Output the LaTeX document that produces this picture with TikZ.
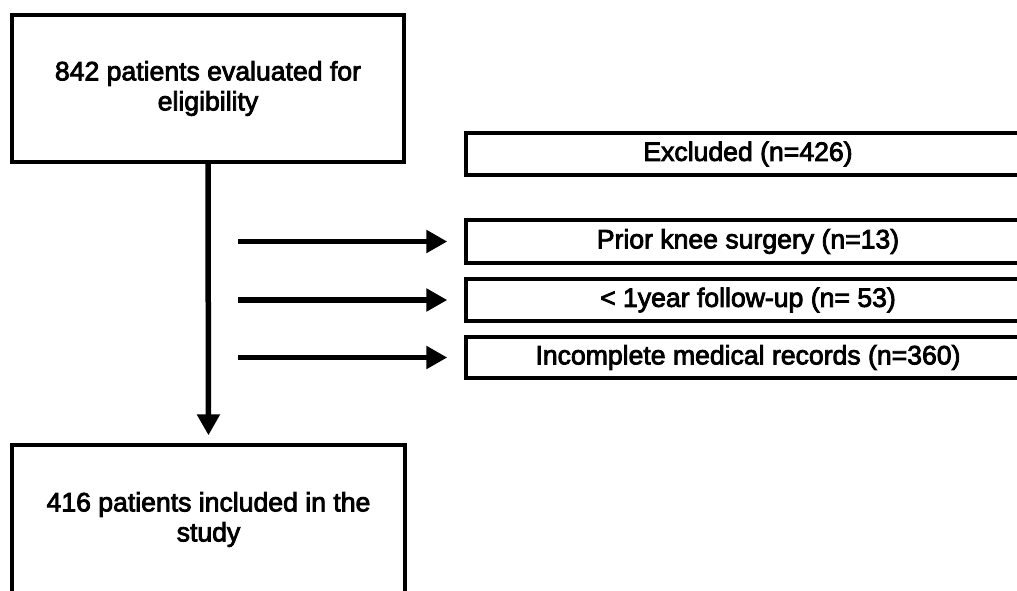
\documentclass[tikz,border=0pt]{standalone}
\usepackage{fontspec}
\newfontfamily\lblfont{Liberation Sans}[RawFeature={embolden=3}]
\usetikzlibrary{arrows.meta}
\begin{document}
\begin{tikzpicture}[x=1pt,y=-1pt,
  box/.style={draw=black, line width=3.4pt, inner sep=0pt, fill=white, align=center,
    font=\fontsize{26.6}{30}\lblfont},
  sidebox/.style={box, minimum width=564pt},
  arr/.style={line width=5.5pt, -{Triangle[length=21pt,width=22pt]}}]
\useasboundingbox (0,0) rectangle (1017,590);
\clip (0,0) rectangle (1017,590);
\node[box, minimum width=392pt, minimum height=147pt] (elig) at (208,88.5) {842 patients evaluated for\\eligibility};
\node[box, minimum width=393pt, minimum height=149pt] (incl) at (208.5,519.5) {416 patients included in the\\study};
\node[sidebox, minimum height=42pt] (excl) at (748,154) {Excluded (n=426)};
\node[sidebox, minimum height=43pt] (prior) at (748,241.5) {Prior knee surgery (n=13)};
\node[sidebox, minimum height=42pt] (fu) at (748,300) {< 1year follow-up (n= 53)};
\node[sidebox, minimum height=41pt] (rec) at (748,357.5) {Incomplete medical records (n=360)};
\coordinate (s1) at (238,241.5);
\coordinate (s2) at (238,300);
\coordinate (s3) at (238,357.5);
\draw[arr, shorten >=8pt] (elig.south) -- (incl.north);
\draw[arr, shorten >=17pt] (s1) -- (prior.west);
\draw[arr, shorten >=17pt] (s2) -- (fu.west);
\draw[arr, shorten >=17pt] (s3) -- (rec.west);
\end{tikzpicture}
\end{document}
